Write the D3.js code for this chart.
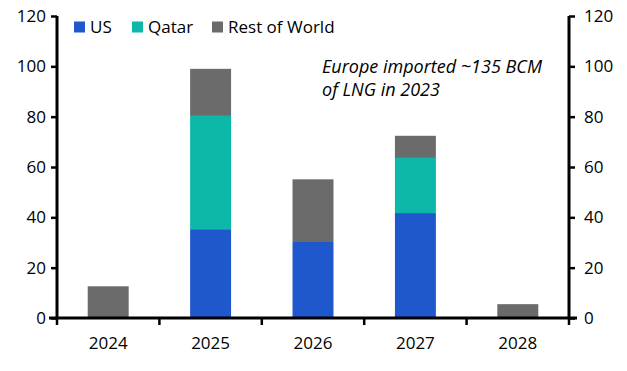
<!DOCTYPE html>
<html>
<head>
<meta charset="utf-8">
<script src="https://cdn.jsdelivr.net/npm/d3@7"></script>
<style>
  body { margin: 0; background: #fff; }
  text { font-family: "Open Sans", Lato, sans-serif; fill: #000; }
</style>
</head>
<body>
<svg id="chart"></svg>
<script>
const years = ["2024", "2025", "2026", "2027", "2028"];
const us = [0, 35.3, 30.2, 41.7, 0];
const qatar = [0, 45, 0, 21.9, 0];
const rest = [12.6, 18.7, 24.9, 8.8, 5.5];
const seriesNames = ["US", "Qatar", "Rest of World"];
const yTicks = [0, 20, 40, 60, 80, 100, 120];

const colors = { "US": "#1f58cc", "Qatar": "#0db8a9", "Rest of World": "#6b6b6b" };

const width = 627;
const height = 371;
const margin = { top: 16, right: 58, bottom: 53, left: 57 };

const svg = d3.select("svg#chart")
  .attr("width", width)
  .attr("height", height);

const rows = years.map((y, i) => ({ year: y, "US": us[i], "Qatar": qatar[i], "Rest of World": rest[i] }));
const stacked = d3.stack().keys(seriesNames)(rows);

const xScale = d3.scaleBand()
  .domain(years)
  .range([margin.left, width - margin.right])
  .paddingInner(0.6)
  .paddingOuter(0.3);

const yScale = d3.scaleLinear()
  .domain([0, 120])
  .range([height - margin.bottom, margin.top]);

// bars
svg.append("g")
  .selectAll("g")
  .data(stacked)
  .enter()
  .append("g")
  .attr("fill", d => colors[d.key])
  .selectAll("rect")
  .data(d => d)
  .enter()
  .append("rect")
  .attr("x", d => xScale(d.data.year))
  .attr("y", d => yScale(d[1]))
  .attr("width", xScale.bandwidth())
  .attr("height", d => yScale(d[0]) - yScale(d[1]));

// left axis
const leftAxis = d3.axisLeft(yScale).tickValues(yTicks).tickSize(6).tickPadding(5);
const gl = svg.append("g")
  .attr("transform", "translate(" + margin.left + ",0)")
  .call(leftAxis);

// right axis
const rightAxis = d3.axisRight(yScale).tickValues(yTicks).tickSize(6).tickPadding(9);
const gr = svg.append("g")
  .attr("transform", "translate(" + (width - margin.right) + ",0)")
  .call(rightAxis);

// bottom axis: ticks between categories
const xEdges = d3.scaleLinear().domain([0, years.length]).range([margin.left, width - margin.right]);
const gb = svg.append("g")
  .attr("transform", "translate(0," + (height - margin.bottom) + ")");
gb.append("line")
  .attr("x1", margin.left - 8)
  .attr("x2", width - margin.right + 8)
  .attr("stroke", "#000")
  .attr("stroke-width", 3);
gb.selectAll("line.tick")
  .data(d3.range(years.length + 1))
  .enter()
  .append("line")
  .attr("class", "tick")
  .attr("x1", d => xEdges(d))
  .attr("x2", d => xEdges(d))
  .attr("y1", 0)
  .attr("y2", 7)
  .attr("stroke", "#000")
  .attr("stroke-width", 2.5);
gb.selectAll("text")
  .data(years)
  .enter()
  .append("text")
  .attr("x", d => xScale(d) + xScale.bandwidth() / 2)
  .attr("y", 31)
  .attr("text-anchor", "middle")
  .style("font-size", "17px")
  .text(d => d);

[gl, gr].forEach(g => {
  g.select(".domain").attr("stroke", "#000").attr("stroke-width", 3);
  g.selectAll(".tick line").attr("stroke", "#000").attr("stroke-width", 2.5);
  g.selectAll(".tick text").style("font-size", "17px");
});
gl.select(".domain").attr("d", "M0," + yScale(120) + "V" + yScale(0));
gr.select(".domain").attr("d", "M0," + yScale(120) + "V" + yScale(0));

// legend
const legend = svg.append("g").attr("transform", "translate(74,27)");
const legendX = [0, 58, 138];
seriesNames.forEach((name, i) => {
  const g = legend.append("g").attr("transform", "translate(" + legendX[i] + ",0)");
  g.append("rect").attr("x", 0).attr("y", -5.5).attr("width", 11).attr("height", 11).attr("fill", colors[name]);
  g.append("text").attr("x", 16).attr("y", 6).style("font-size", "17px").text(name);
});

// annotation
const note = svg.append("text")
  .attr("x", 322)
  .attr("y", 73)
  .style("font-size", "18px")
  .style("font-style", "italic");
note.append("tspan").attr("x", 322).attr("dy", 0).text("Europe imported ~135 BCM");
note.append("tspan").attr("x", 322).attr("dy", 23).text("of LNG in 2023");
</script>
</body>
</html>
